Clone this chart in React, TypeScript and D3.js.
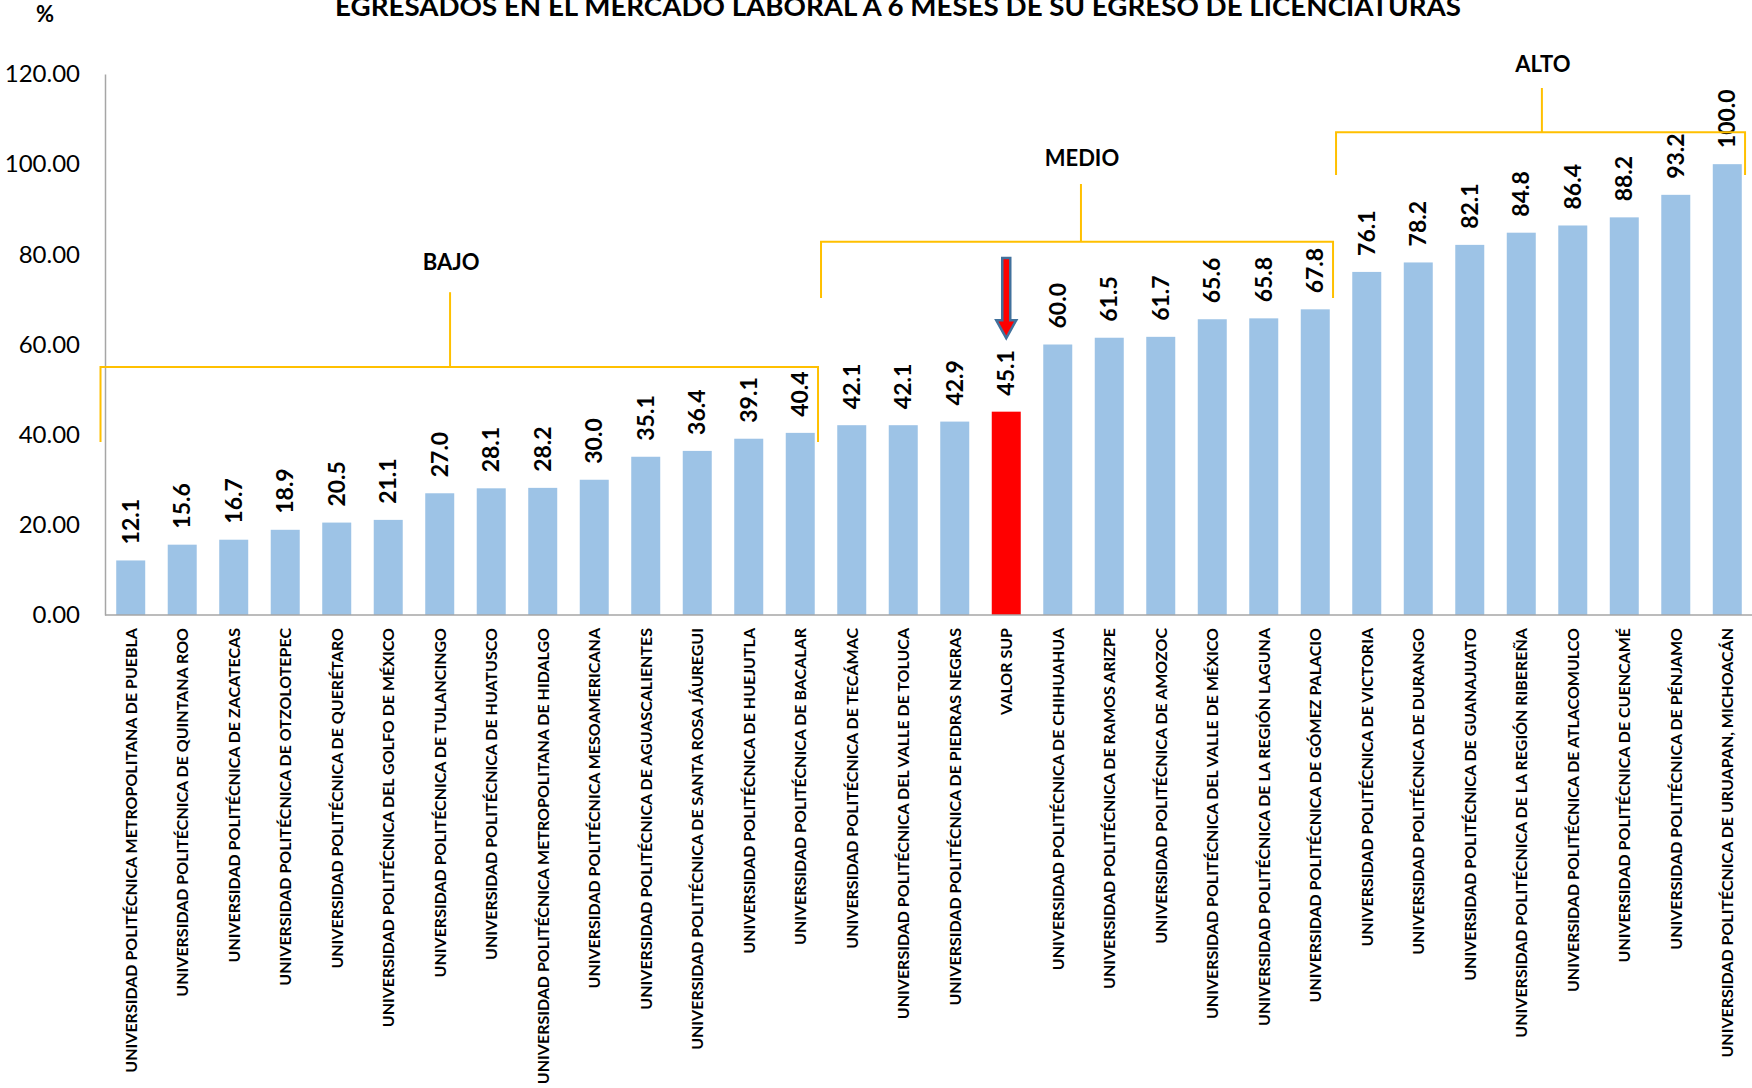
import React, { useEffect, useRef } from 'react';
import * as d3 from 'd3';

const universidades = [
    'UNIVERSIDAD POLITÉCNICA METROPOLITANA DE PUEBLA',
    'UNIVERSIDAD POLITÉCNICA DE QUINTANA ROO',
    'UNIVERSIDAD POLITÉCNICA DE ZACATECAS',
    'UNIVERSIDAD POLITÉCNICA DE OTZOLOTEPEC',
    'UNIVERSIDAD POLITÉCNICA DE QUERÉTARO',
    'UNIVERSIDAD POLITÉCNICA DEL GOLFO DE MÉXICO',
    'UNIVERSIDAD POLITÉCNICA DE TULANCINGO',
    'UNIVERSIDAD POLITÉCNICA DE HUATUSCO',
    'UNIVERSIDAD POLITÉCNICA METROPOLITANA DE HIDALGO',
    'UNIVERSIDAD POLITÉCNICA MESOAMERICANA',
    'UNIVERSIDAD POLITÉCNICA DE AGUASCALIENTES',
    'UNIVERSIDAD POLITÉCNICA DE SANTA ROSA JÁUREGUI',
    'UNIVERSIDAD POLITÉCNICA DE HUEJUTLA',
    'UNIVERSIDAD POLITÉCNICA DE BACALAR',
    'UNIVERSIDAD POLITÉCNICA DE TECÁMAC',
    'UNIVERSIDAD POLITÉCNICA DEL VALLE DE TOLUCA',
    'UNIVERSIDAD POLITÉCNICA DE PIEDRAS NEGRAS',
    'VALOR SUP',
    'UNIVERSIDAD POLITÉCNICA DE CHIHUAHUA',
    'UNIVERSIDAD POLITÉCNICA DE RAMOS ARIZPE',
    'UNIVERSIDAD POLITÉCNICA DE AMOZOC',
    'UNIVERSIDAD POLITÉCNICA DEL VALLE DE MÉXICO',
    'UNIVERSIDAD POLITÉCNICA DE LA REGIÓN LAGUNA',
    'UNIVERSIDAD POLITÉCNICA DE GÓMEZ PALACIO',
    'UNIVERSIDAD POLITÉCNICA DE VICTORIA',
    'UNIVERSIDAD POLITÉCNICA DE DURANGO',
    'UNIVERSIDAD POLITÉCNICA DE GUANAJUATO',
    'UNIVERSIDAD POLITÉCNICA DE LA REGIÓN RIBEREÑA',
    'UNIVERSIDAD POLITÉCNICA DE ATLACOMULCO',
    'UNIVERSIDAD POLITÉCNICA DE CUENCAMÉ',
    'UNIVERSIDAD POLITÉCNICA DE PÉNJAMO',
    'UNIVERSIDAD POLITÉCNICA DE URUAPAN, MICHOACÁN'
];

const porcentajes = [
    12.1, 15.6, 16.7, 18.9, 20.5, 21.1, 27.0, 28.1, 28.2, 30.0, 35.1, 36.4, 39.1, 40.4,
    42.1, 42.1, 42.9, 45.1, 60.0, 61.5, 61.7, 65.6, 65.8, 67.8,
    76.1, 78.2, 82.1, 84.8, 86.4, 88.2, 93.2, 100.0
];

const yTicks = [0, 20, 40, 60, 80, 100, 120];

const destacado = 'VALOR SUP';

// grupos: primer y ultimo indice, nivel de la llave, patas, tallo y etiqueta (en %)
const grupos = [
    { nombre: 'BAJO', desde: 0, hasta: 13, tallo: 6.7, nivel: 55.0, patas: 38.4, tope: 71.6, texto: 78.3 },
    { nombre: 'MEDIO', desde: 14, hasta: 23, tallo: 18.95, nivel: 82.8, patas: 70.3, tope: 95.6, texto: 101.4 },
    { nombre: 'ALTO', desde: 24, hasta: 31, tallo: 27.9, nivel: 107.1, patas: 97.6, tope: 116.9, texto: 122.2 }
];

// flecha sobre VALOR SUP (de / a, en %)
const flecha = { desde: 79.2, hasta: 61.4 };

const titulo = 'EGRESADOS  EN EL MERCADO LABORAL A 6 MESES DE SU EGRESO DE LICENCIATURAS';

const FONT = 'Lato, "Open Sans", sans-serif';

const App: React.FC = () => {
    const svgRef = useRef<SVGSVGElement>(null);
    const width = 1752;
    const height = 1088;
    const margin = { top: 74, right: -1, bottom: 473, left: 105 };

    useEffect(() => {
        if (!svgRef.current) return;
        const svg = d3.select(svgRef.current);
        svg.selectAll('*').remove();

        const x = d3.scaleBand<string>()
            .domain(universidades)
            .range([margin.left, width - margin.right])
            .paddingInner(0.437)
            .paddingOuter(0.218);

        const y = d3.scaleLinear()
            .domain([0, 120])
            .range([height - margin.bottom, margin.top]);

        const step = x.step();
        const x0 = margin.left;
        const bandStart = (i: number) => x0 + i * step;

        // title (cut at the top edge, as in the original)
        svg.append('text')
            .attr('x', 335)
            .attr('y', 16)
            .attr('font-family', FONT)
            .attr('font-weight', 'bold')
            .attr('font-size', 26)
            .attr('textLength', 1126)
            .attr('lengthAdjust', 'spacingAndGlyphs')
            .text(titulo);

        svg.append('text')
            .attr('x', 45)
            .attr('y', 22)
            .attr('text-anchor', 'middle')
            .attr('font-family', FONT)
            .attr('font-weight', 'bold')
            .attr('font-size', 22)
            .text('%');

        // y axis
        const yAxis = d3.axisLeft(y)
            .tickValues(yTicks)
            .tickSize(0)
            .tickPadding(25)
            .tickFormat(d => d3.format('.2f')(d as number));

        const gy = svg.append('g')
            .attr('transform', `translate(${margin.left},0)`)
            .call(yAxis);
        gy.select('.domain').attr('stroke', '#A6A6A6').attr('stroke-width', 1.5);
        gy.selectAll('text')
            .attr('font-family', FONT)
            .attr('font-size', 24)
            .attr('fill', '#000');

        // bars
        svg.append('g')
            .selectAll('rect')
            .data(universidades)
            .enter()
            .append('rect')
            .attr('x', d => x(d)!)
            .attr('y', (d, i) => y(porcentajes[i]))
            .attr('width', x.bandwidth())
            .attr('height', (d, i) => y(0) - y(porcentajes[i]))
            .attr('fill', d => d === destacado ? '#FF0000' : '#9DC3E6');

        // x axis line
        svg.append('line')
            .attr('x1', margin.left)
            .attr('x2', width)
            .attr('y1', y(0))
            .attr('y2', y(0))
            .attr('stroke', '#A6A6A6')
            .attr('stroke-width', 1.5);

        // value labels
        svg.append('g')
            .selectAll('text')
            .data(universidades)
            .enter()
            .append('text')
            .attr('transform', (d, i) =>
                `translate(${x(d)! + x.bandwidth() / 2 + 8},${y(porcentajes[i]) - 16}) rotate(-90)`)
            .attr('font-family', FONT)
            .attr('font-weight', 'bold')
            .attr('font-size', 23)
            .text((d, i) => porcentajes[i].toFixed(1));

        // category labels
        svg.append('g')
            .selectAll('text')
            .data(universidades)
            .enter()
            .append('text')
            .attr('transform', d => `translate(${x(d)! + x.bandwidth() / 2 + 6},${y(0) + 13}) rotate(-90)`)
            .attr('text-anchor', 'end')
            .attr('font-family', FONT)
            .attr('font-weight', 'bold')
            .attr('font-size', 16)
            .text(d => d);

        // brackets
        const llaves = svg.append('g')
            .attr('fill', 'none')
            .attr('stroke', '#FFC000')
            .attr('stroke-width', 2);

        grupos.forEach((g, k) => {
            const left = bandStart(g.desde) - (k === 0 ? 4.5 : 5);
            const right = bandStart(g.hasta + 1) - 8;
            const mid = bandStart(g.tallo);
            llaves.append('path')
                .attr('d', `M${left},${y(g.patas)} V${y(g.nivel)} H${right} V${y(g.patas)}`);
            llaves.append('line')
                .attr('x1', mid).attr('x2', mid)
                .attr('y1', y(g.nivel)).attr('y2', y(g.tope));
            svg.append('text')
                .attr('x', mid + 1)
                .attr('y', y(g.texto))
                .attr('dy', '0.36em')
                .attr('text-anchor', 'middle')
                .attr('font-family', FONT)
                .attr('font-weight', 'bold')
                .attr('font-size', 22)
                .text(g.nombre);
        });

        // arrow pointing at VALOR SUP
        const ax = x(destacado)! + x.bandwidth() / 2;
        const yTop = y(flecha.desde);
        const yTip = y(flecha.hasta);
        const headH = 18;
        const shaft = 4;
        const head = 10;
        svg.append('path')
            .attr('d', `M${ax - shaft},${yTop} H${ax + shaft} V${yTip - headH} H${ax + head} L${ax},${yTip} L${ax - head},${yTip - headH} H${ax - shaft} Z`)
            .attr('fill', '#FF0000')
            .attr('stroke', '#41719C')
            .attr('stroke-width', 2.5)
            .attr('stroke-linejoin', 'miter');
    }, []);

    return (
        <div style={{ position: 'absolute', left: 0, top: 0 }}>
            <svg ref={svgRef} width={width} height={height} style={{ display: 'block', background: '#fff' }} />
        </div>
    );
};

export default App;
